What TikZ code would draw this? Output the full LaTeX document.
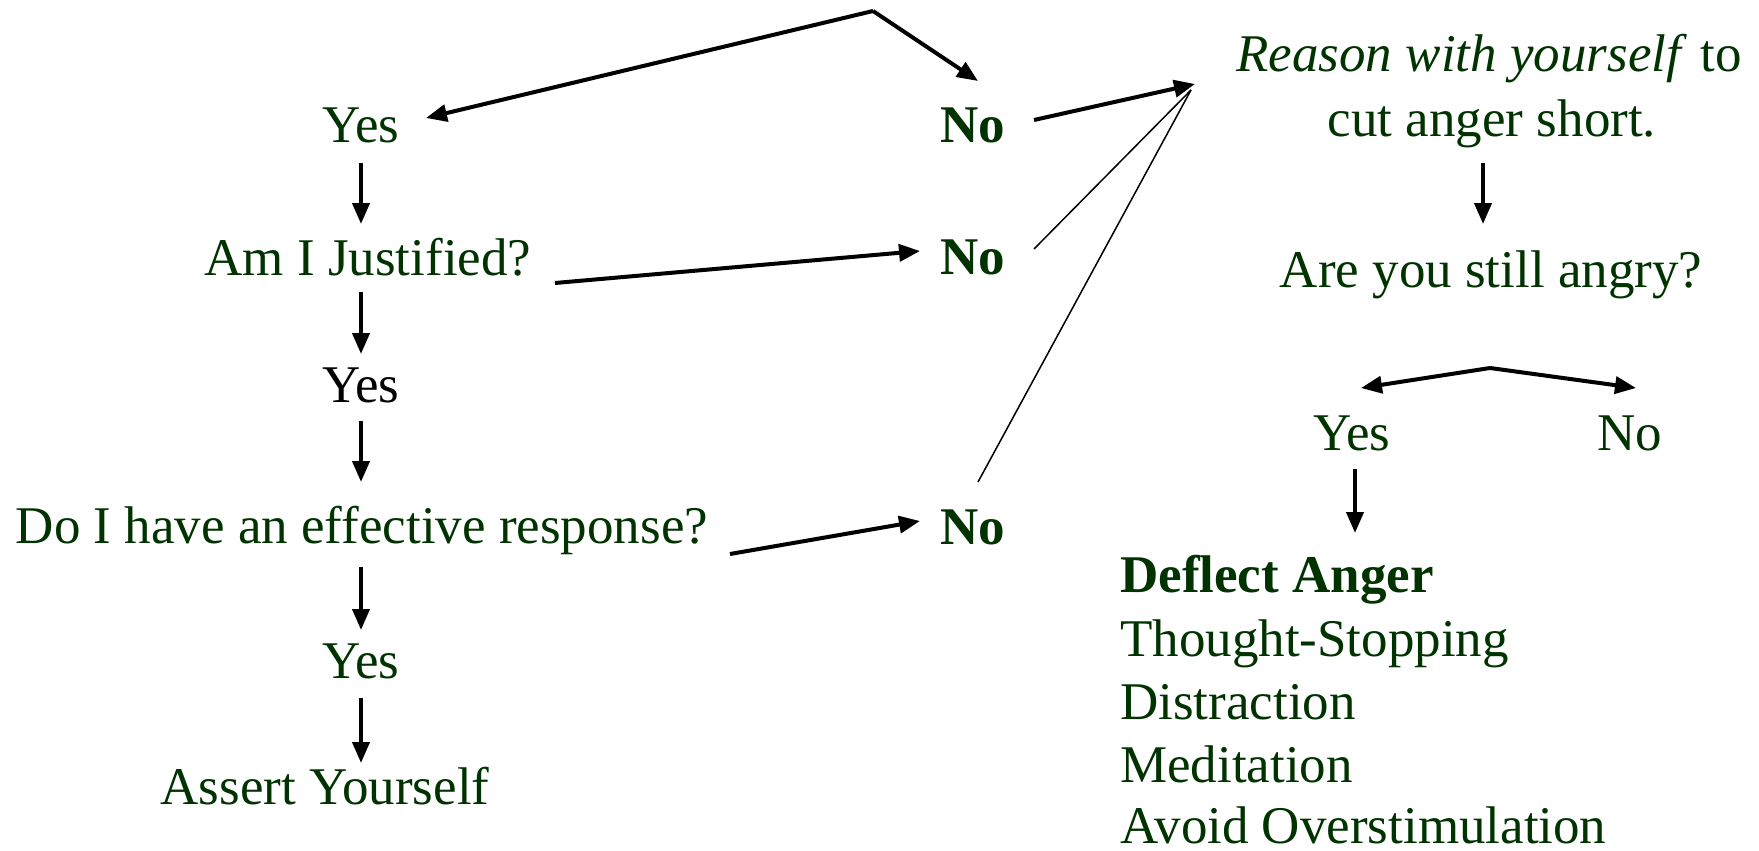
\documentclass[tikz,border=0pt]{standalone}
\usepackage{fontspec}
\setmainfont{Liberation Serif}
\usetikzlibrary{arrows.meta}
\definecolor{dkgreen}{RGB}{0,51,0}
\begin{document}
\begin{tikzpicture}[x=1pt,y=-1pt,
  txt/.style={anchor=base,inner sep=0pt,text=dkgreen,font=\fontsize{53}{64}\selectfont},
  btxt/.style={txt,font=\fontsize{53}{64}\selectfont\bfseries},
  ltxt/.style={txt,anchor=base west},
  arr/.style={line width=4pt,-{Triangle[length=21pt,width=17pt]}},
  thinl/.style={line width=1.5pt}]
\useasboundingbox (0,0) rectangle (1759,851);
% left column
\node[txt] (yes1) at (361,142) {Yes};
\node[txt] (aij) at (368,275) {Am I Justified?};
\node[txt,text=black] (yes2) at (361,402) {Yes};
\node[txt] (eff) at (362,543) {Do I have an effective response?};
\node[txt] (yes3) at (361,678) {Yes};
\node[txt] (assert) at (325,804) {Assert Yourself};
% No column
\node[btxt] (no1) at (973,142) {No};
\node[btxt] (no2) at (973,274) {No};
\node[btxt] (no3) at (973,544) {No};
% right column
\node[txt] (reason) at (1489,71) {\textit{Reason with yourself} to};
\node[txt] (cut) at (1492,136) {cut anger short.};
\node[txt] (angry) at (1491,287) {Are you still angry?};
\node[txt] (yes4) at (1352,450) {Yes};
\node[txt] (no4) at (1630,450) {No};
\node[ltxt,font=\fontsize{53}{64}\selectfont\bfseries] (deflect) at (1120,592) {Deflect Anger};
\node[ltxt] (ts) at (1120,656) {Thought-Stopping};
\node[ltxt] (dis) at (1120,719) {Distraction};
\node[ltxt] (med) at (1120,782) {Meditation};
\node[ltxt] (avoid) at (1120,843) {Avoid Overstimulation};
% connector end points
\coordinate (apex) at (873,11);
\coordinate (yes1tip) at (426,118);
\coordinate (no1tip) at (978,81);
\coordinate (no1out) at (1034,120);
\coordinate (rtip) at (1195,84);
\coordinate (rin) at (1191,90);
\coordinate (no2out) at (1034,249);
\coordinate (no3out) at (978,482);
\coordinate (aijout) at (555,283);
\coordinate (no2tip) at (920,251);
\coordinate (effout) at (730,554);
\coordinate (no3tip) at (920,521);
\coordinate (split) at (1490,368);
\coordinate (yes4tip) at (1361,388);
\coordinate (no4tip) at (1636,388);
\coordinate (a1s) at (361,163); \coordinate (a1e) at (361,224);
\coordinate (a2s) at (361,292); \coordinate (a2e) at (361,354);
\coordinate (a3s) at (361,421); \coordinate (a3e) at (361,482);
\coordinate (a4s) at (361,567); \coordinate (a4e) at (361,630);
\coordinate (a5s) at (361,698); \coordinate (a5e) at (361,763);
\coordinate (r1s) at (1483,163); \coordinate (r1e) at (1483,224);
\coordinate (d1s) at (1355,469); \coordinate (d1e) at (1355,533);
% connectors
\draw[arr] (apex) -- (yes1tip);
\draw[arr] (apex) -- (no1tip);
\draw[arr] (no1out) -- (rtip);
\draw[thinl] (no2out) -- (rin);
\draw[thinl] (no3out) -- (rin);
\draw[arr] (aijout) -- (no2tip);
\draw[arr] (effout) -- (no3tip);
\draw[arr] (a1s) -- (a1e);
\draw[arr] (a2s) -- (a2e);
\draw[arr] (a3s) -- (a3e);
\draw[arr] (a4s) -- (a4e);
\draw[arr] (a5s) -- (a5e);
\draw[arr] (r1s) -- (r1e);
\draw[arr] (split) -- (yes4tip);
\draw[arr] (split) -- (no4tip);
\draw[arr] (d1s) -- (d1e);
\end{tikzpicture}
\end{document}
